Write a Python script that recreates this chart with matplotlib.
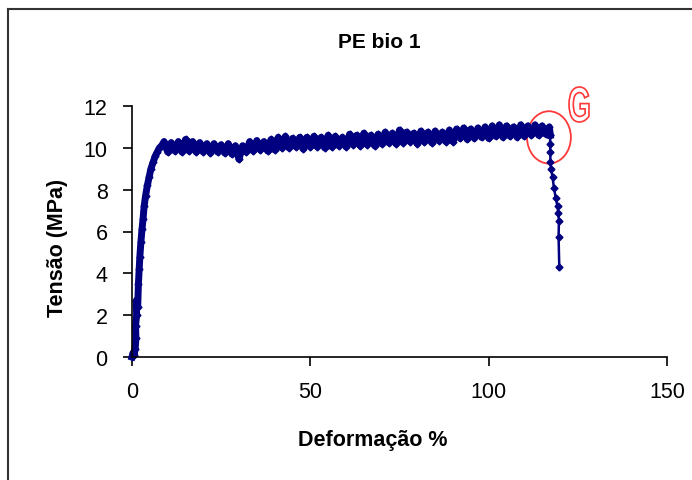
import numpy as np
import matplotlib.pyplot as plt
from matplotlib.patches import Ellipse, PathPatch
from matplotlib.textpath import TextPath
from matplotlib.font_manager import FontProperties
from matplotlib.transforms import Affine2D
from matplotlib.lines import Line2D

plt.rcParams['font.family'] = ['Liberation Sans', 'DejaVu Sans']

# curva tensao-deformacao
x_subida = [0.0, 0.3, 0.6, 0.9, 1.1, 1.0, 1.3, 1.2, 1.6, 1.8, 2.0, 2.2, 2.5, 2.8,
            3.1, 3.4, 3.8, 4.3, 4.8, 5.3, 5.9, 6.5, 7.1, 7.7, 8.3]
y_subida = [0.0, 0.2, 0.1, 0.4, 0.9, 1.5, 2.0, 2.7, 2.4, 3.5, 4.2, 4.8, 5.5, 6.1,
            6.6, 7.2, 7.7, 8.2, 8.6, 9.0, 9.3, 9.6, 9.8, 10.0, 10.1]

x_patamar = list(range(9, 118))
y_patamar = [10.3, 9.8, 10.25, 9.85, 10.3, 9.8, 10.4, 9.85, 10.3, 9.8, 10.25, 9.8,
             10.2, 9.75, 10.2, 9.8, 10.15, 9.75, 10.2, 9.7, 10.1, 9.45, 10.1,
             9.8, 10.3, 9.85, 10.35, 9.9, 10.3, 9.85, 10.4, 9.9,
             10.5, 10.0, 10.55, 10.0, 10.45, 10.05, 10.5, 9.95, 10.5, 10.05,
             10.55, 10.05, 10.5, 10.0, 10.6, 10.05, 10.55, 10.1, 10.5, 10.05,
             10.65, 10.15, 10.6, 10.1, 10.7, 10.15, 10.6, 10.1, 10.65, 10.2,
             10.75, 10.25, 10.7, 10.2, 10.85, 10.25, 10.75, 10.3, 10.7, 10.2,
             10.8, 10.3, 10.75, 10.25, 10.8, 10.35, 10.75, 10.3, 10.85, 10.3,
             10.9, 10.45, 10.95, 10.4, 10.9, 10.45, 10.95, 10.5, 11.0, 10.45,
             11.05, 10.55, 11.1, 10.5, 11.05, 10.55, 11.0, 10.5, 11.1, 10.55,
             11.05, 10.6, 11.1, 10.6, 11.05, 10.65, 11.0]

x_ruptura = [117.3, 117.2, 117.3, 117.3, 117.5, 117.9, 118.3, 118.8, 119.3,
             119.5, 119.7, 119.6, 119.8]
y_ruptura = [10.6, 10.2, 9.8, 9.3, 9.0, 8.6, 8.1, 7.6, 7.2, 6.9, 6.5, 5.75, 4.3]

deformacao = np.array(x_subida + x_patamar + x_ruptura, dtype=float)
tensao = np.array(y_subida + y_patamar + y_ruptura, dtype=float)

W, H = 692, 481
fig = plt.figure(figsize=(W / 100, H / 100), dpi=100)
ax = fig.add_axes([132 / W, 1 - 358 / H, 535 / W, 251 / H])

n = len(x_subida) + len(x_patamar)
ax.plot(deformacao[:n + 1], tensao[:n + 1], color='#000080', linewidth=5,
        marker='D', markersize=3.5, clip_on=False, solid_joinstyle='round')
ax.plot(deformacao[n:], tensao[n:], color='#000080', linewidth=1.8,
        marker='D', markersize=3.5, clip_on=False)

ax.set_xlim(0, 150)
ax.set_ylim(0, 12)
ax.set_xticks([0, 50, 100, 150])
ax.set_yticks(range(0, 13, 2))
for s in ['top', 'right']:
    ax.spines[s].set_visible(False)
for s in ['left', 'bottom']:
    ax.spines[s].set_linewidth(1.2)
ax.tick_params(direction='out', length=6.5, width=1.2, labelsize=15.5, pad=11)

# circulo vermelho na ruptura
ax.add_patch(Ellipse((116.9, 10.5), 12.3, 2.5, fill=False, edgecolor='#ff3838',
                     linewidth=1.3, clip_on=False))

# letra G contornada
tp = TextPath((0, 0), 'G', size=10, prop=FontProperties(family='Liberation Sans', weight='bold'))
bb = tp.get_extents()
sx = 20 / bb.width / W
sy = 35 / bb.height / H
tr = Affine2D().translate(-bb.x0, -bb.y0).scale(sx, sy).translate(569 / W, 1 - 123 / H)
g = PathPatch(tr.transform_path(tp), facecolor='white', edgecolor='#ff3838',
              linewidth=1.2, transform=fig.transFigure)
fig.patches.append(g)

fig.text(379 / W, 1 - 42 / H, 'PE bio 1', ha='center', va='center',
         fontsize=15, fontweight='bold')
fig.text(373 / W, 1 - 441 / H, 'Deformação %', ha='center', va='center',
         fontsize=15.5, fontweight='bold')
fig.text(58 / W, 1 - 248 / H, 'Tensão (MPa)', ha='center', va='center',
         rotation=90, fontsize=15.5, fontweight='bold')

# moldura externa
fig.add_artist(Line2D([8 / W, 8 / W], [0, 1 - 10 / H], color='#333333',
                      linewidth=1.5, transform=fig.transFigure))
fig.add_artist(Line2D([8 / W, 1], [1 - 10 / H, 1 - 10 / H], color='#333333',
                      linewidth=1.5, transform=fig.transFigure))

fig.savefig('out.png', dpi=100)
